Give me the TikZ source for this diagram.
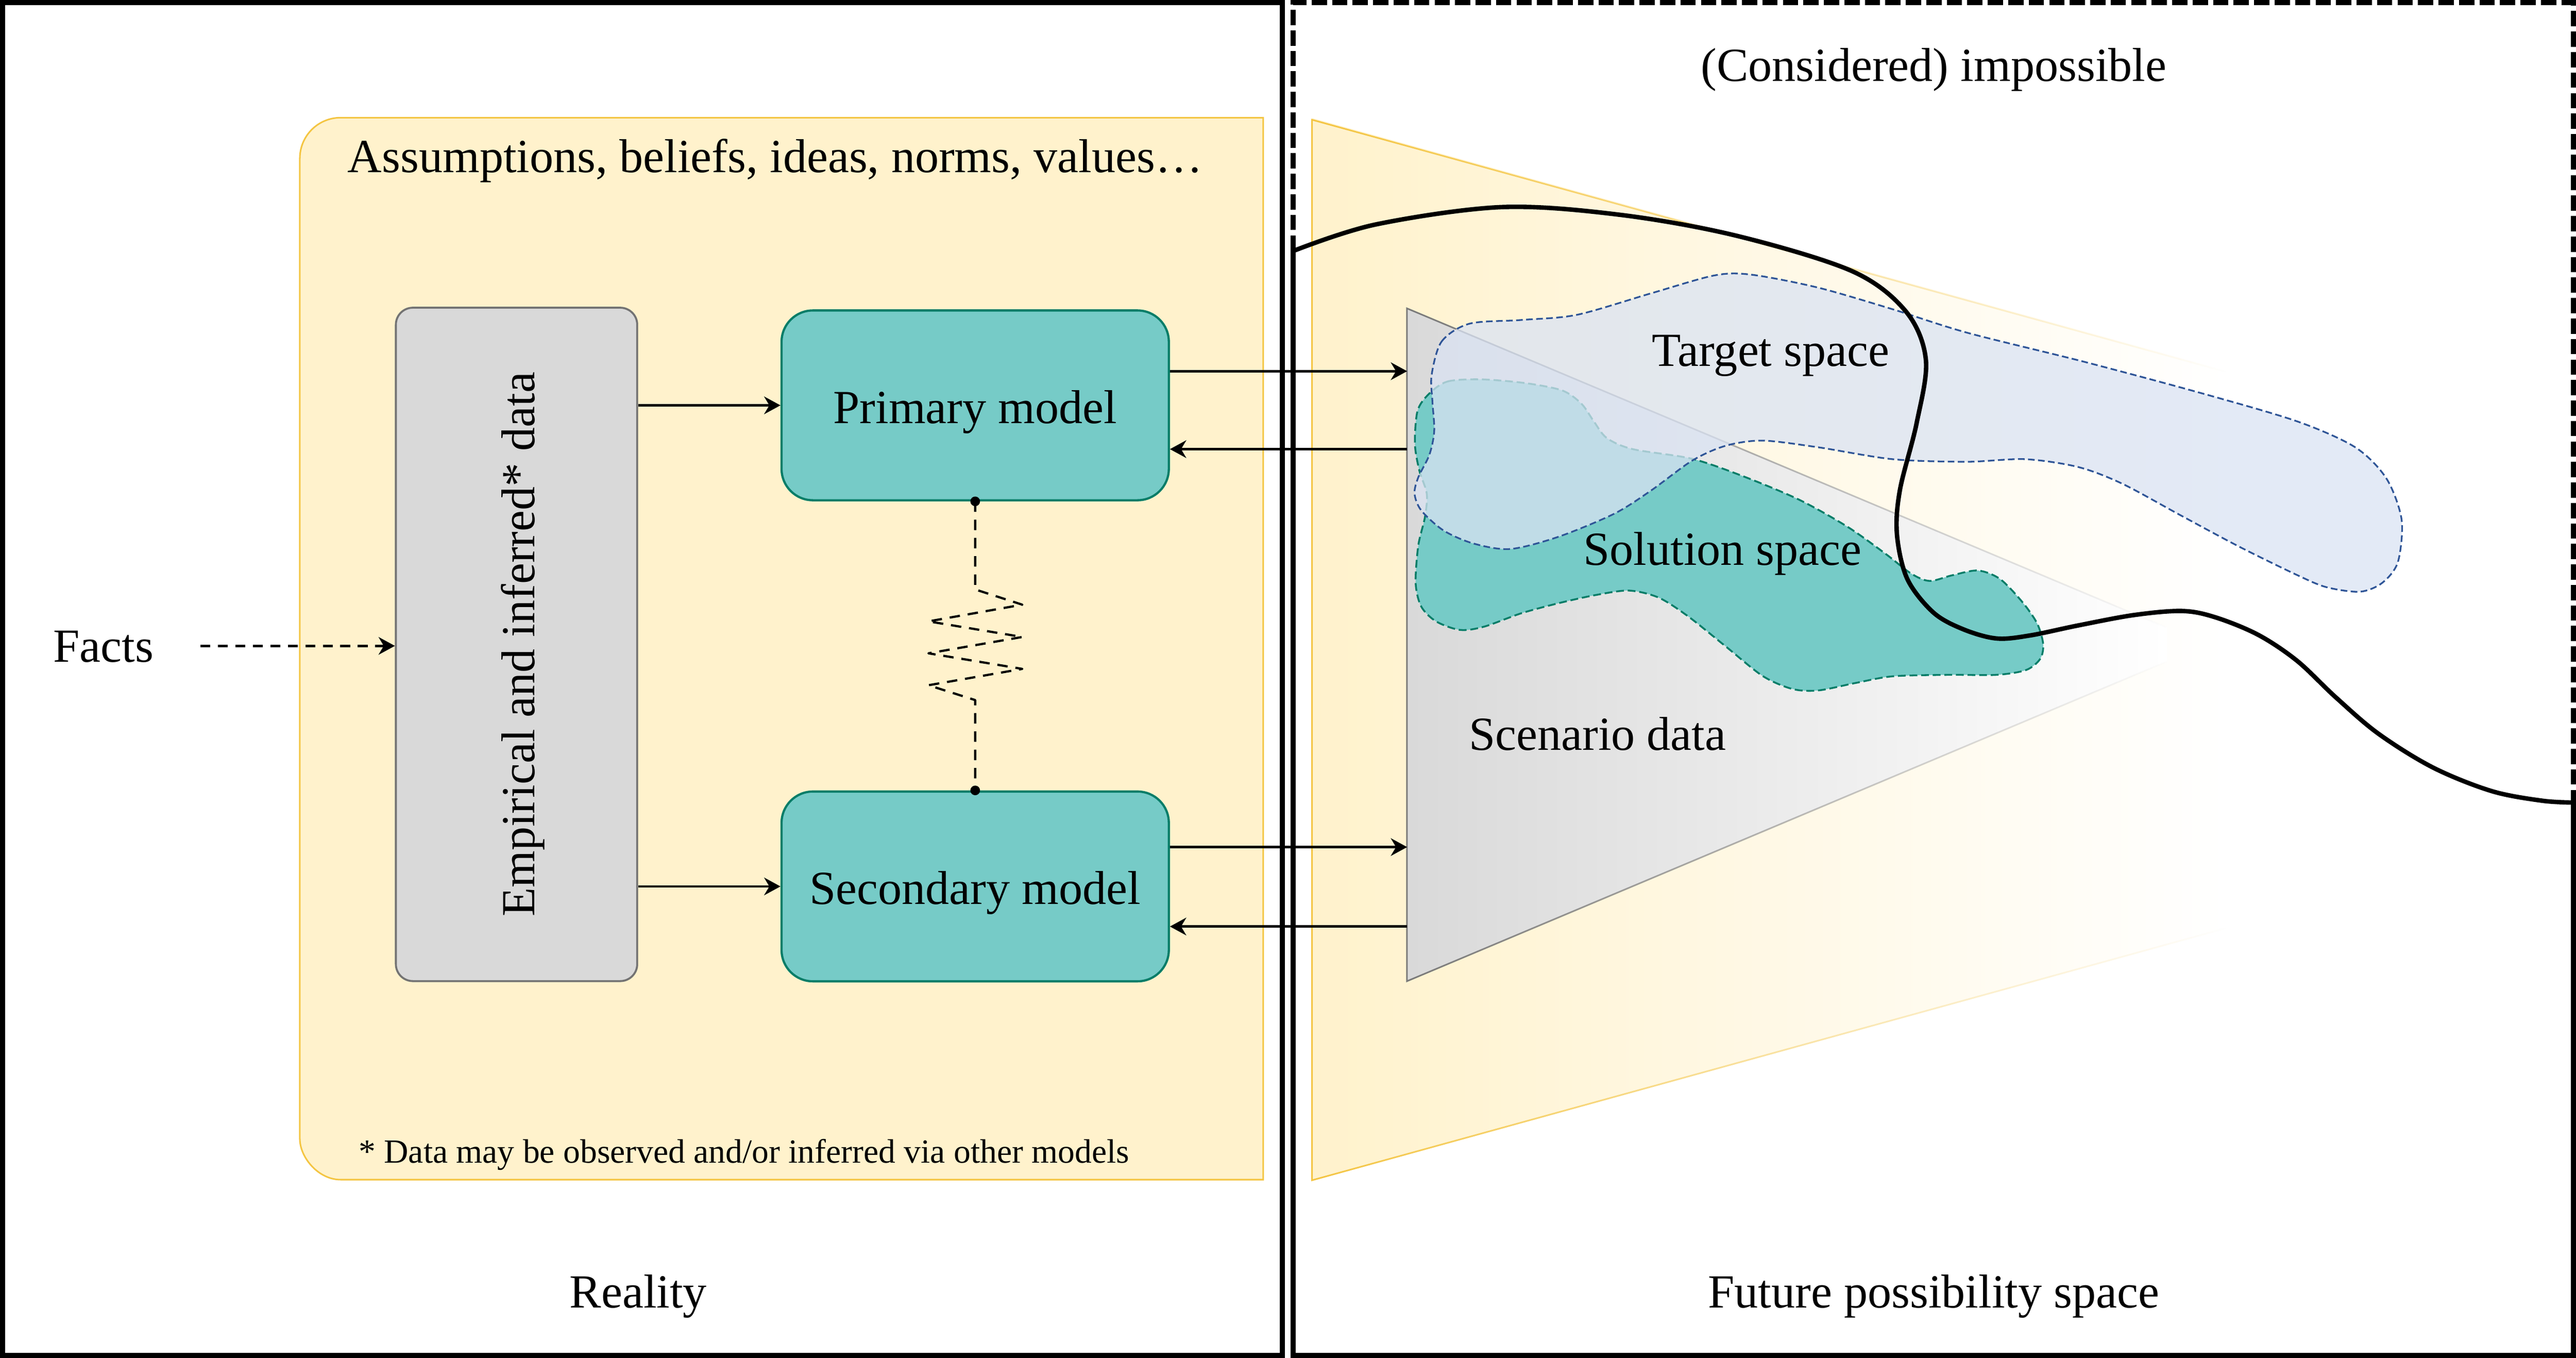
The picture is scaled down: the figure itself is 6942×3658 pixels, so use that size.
\documentclass[tikz,border=0pt]{standalone}
\usepackage{fontspec}
\setmainfont{Liberation Serif}
\usetikzlibrary{arrows.meta,fadings}
\definecolor{yfill}{HTML}{FFF2CC}
\definecolor{ystroke}{HTML}{F4C542}
\definecolor{tfill}{HTML}{76CBC7}
\definecolor{tstroke}{HTML}{067D68}
\definecolor{gfill}{HTML}{D9D9D9}
\definecolor{gstroke}{HTML}{737373}
\definecolor{trigstroke}{HTML}{7A7A7A}
\definecolor{bfill}{HTML}{DAE3F3}
\definecolor{bstroke}{HTML}{2F5597}
\tikzfading[name=fadeR, left color=transparent!0, right color=transparent!100]
\begin{document}
\begin{tikzpicture}[x=0.01cm,y=-0.01cm,
 lbl/.style={font=\fontsize{36.4}{44}\selectfont, inner sep=0pt},
 note/.style={font=\fontsize{25.9}{31}\selectfont, inner sep=0pt},
 frame/.style={draw=black, line width=3.98pt, line join=miter, line cap=butt},
 framedash/.style={frame, dash pattern=on 11.7pt off 4pt},
 modelbox/.style={lbl, draw=tstroke, fill=tfill, line width=1.7pt, rounded corners=24pt, minimum width=10.43cm, minimum height=5.11cm, text height=27.3pt, text depth=0pt},
 databox/.style={lbl, draw=gstroke, fill=gfill, line width=1.5pt, rounded corners=13pt, minimum width=18.13cm, minimum height=6.5cm, text height=27.3pt, text depth=0pt},
 arr/.style={line width=1.8pt, -{Stealth[length=12.5pt,width=13.5pt,inset=4pt]}},
 dasharr/.style={arr, dash pattern=on 7.7pt off 5.7pt},
 zig/.style={line width=1.7pt, dash pattern=on 8pt off 6pt, line join=round},
 solution/.style={fill=tfill, draw=tstroke, line width=1.4pt, dash pattern=on 6pt off 2.9pt},
 target/.style={fill=bfill, fill opacity=0.75, draw=bstroke, line width=1.3pt, dash pattern=on 5.1pt off 2.6pt},
 border/.style={line width=3.4pt, line cap=round, line join=round}
]
\useasboundingbox (0,0) rectangle (6942,3658);
\fill[white] (0,0) rectangle (6942,3658);

% ---------- left: assumptions box ----------
\path[fill=yfill, draw=ystroke, line width=1.2pt] (3404,317) -- (918,317) .. controls (857,317) and (808,366) .. (808,427) -- (808,3068) .. controls (808,3117) and (857,3178) .. (918,3178) -- (3404,3178) -- cycle;
\node[lbl, anchor=base] (assump) at (2089,464) {Assumptions, beliefs, ideas, norms, values…};
\node[note, anchor=base] (footnote) at (2005,3133) {* Data may be observed and/or inferred via other models};

\node[databox, rotate=90] (data) at (1392,1736) {Empirical and inferred* data};
\node[modelbox] (primary) at (2628,1092) {Primary model};
\node[modelbox] (secondary) at (2628,2388) {Secondary model};

\node[lbl, anchor=base] (facts) at (279,1783) {Facts};
\coordinate (factsout) at (540,1740);
\draw[dasharr] (factsout) -- (factsout -| data.north);

\draw[arr] (data.south |- primary.west) -- (primary.west);
\draw[arr] (data.south |- secondary.west) -- (secondary.west);

% zigzag link
\draw[zig] (primary.south) -- (2628,1588) -- (2755,1629) -- (2502,1674) -- (2755,1716) -- (2502,1760) -- (2755,1802) -- (2502,1846) -- (2628,1886) -- (secondary.north);
\fill (primary.south) circle[radius=0.13cm];
\fill (secondary.north) circle[radius=0.13cm];

% ---------- right: possibility space ----------
\shade[left color=yfill, right color=white] (3536,318) -- (6000,998) -- (6000,2498) -- (3536,3178) -- cycle;
\draw[draw=ystroke, line width=1.2pt, path fading=fadeR] (6000,998) -- (3536,318) -- (3536,3178) -- (6000,2498);

\shade[left color=gfill, right color=white] (3792,830) -- (5840,1690) -- (5840,1782) -- (3792,2643) -- cycle;
\draw[draw=trigstroke, line width=1.2pt, path fading=fadeR] (5840,1690) -- (3792,830) -- (3792,2643) -- (5840,1782);

\coordinate (a1) at (3792,1000);
\coordinate (a2) at (3792,1210);
\coordinate (a3) at (3792,2282);
\coordinate (a4) at (3792,2496);
\draw[arr] (primary.east |- a1) -- (a1);
\draw[arr] (a2) -- (primary.east |- a2);
\draw[arr] (secondary.east |- a3) -- (a3);
\draw[arr] (a4) -- (secondary.east |- a4);

\path[solution] plot[smooth cycle, tension=0.5] coordinates {
 (3850,1062) (3900,1028) (3990,1022) (4110,1032) (4210,1052) (4262,1088) (4295,1135) (4330,1180) (4400,1210) (4560,1236) (4700,1284) (4850,1347) (4980,1420) (5080,1491) (5150,1545) (5200,1565) (5260,1550) (5330,1537) (5390,1560) (5450,1622) (5490,1680) (5506,1735) (5498,1775) (5460,1805) (5380,1818) (5250,1818) (5100,1822) (5000,1840) (4900,1860) (4830,1856) (4750,1821) (4650,1741) (4550,1661) (4470,1610) (4390,1591) (4300,1603) (4200,1625) (4100,1652) (4000,1688) (3935,1697) (3870,1674) (3830,1634) (3815,1571) (3822,1470) (3840,1393) (3845,1330) (3825,1268) (3813,1196) (3820,1107)};

\path[target] plot[smooth cycle, tension=0.5] coordinates {
 (3858,1010) (3885,920) (3960,872) (4100,862) (4250,848) (4450,790) (4620,742) (4720,740) (4900,775) (5100,833) (5300,896) (5614,974) (5928,1058) (6190,1135) (6347,1205) (6431,1289) (6472,1400) (6462,1514) (6420,1570) (6360,1594) (6270,1582) (6190,1549) (6033,1472) (5876,1388) (5719,1303) (5600,1258) (5457,1237) (5300,1244) (5100,1237) (4900,1205) (4750,1187) (4650,1201) (4560,1241) (4450,1321) (4350,1384) (4200,1446) (4070,1479) (3970,1464) (3890,1429) (3830,1375) (3812,1330) (3822,1286) (3852,1225) (3865,1161) (3860,1080)};

\draw[border] plot[smooth, tension=0.55] coordinates {
 (3488,675) (3706,605) (4045,558) (4360,578) (4675,634) (4990,730) (5136,839) (5190,970) (5165,1140) (5120,1320) (5112,1440) (5140,1560) (5210,1650) (5290,1695) (5380,1720) (5470,1712) (5600,1685) (5750,1657) (5880,1646) (5970,1663) (6085,1710) (6190,1780) (6295,1879) (6410,1977) (6557,2068) (6714,2131) (6850,2157) (6935,2162)};

\node[lbl, anchor=base] (tgtlbl) at (4772,987) {Target space};
\node[lbl, anchor=base] (sollbl) at (4642,1522) {Solution space};
\node[lbl, anchor=base] (scenlbl) at (4305,2021) {Scenario data};

% ---------- frames ----------
\draw[frame] (7,7) rectangle (3456,3651);
\draw[frame] (3485,675) -- (3485,3651) -- (6935,3651) -- (6935,2162);
\draw[framedash] (3485,675) -- (3485,7) -- (6935,7) -- (6935,2162);

\node[lbl, anchor=base] (reality) at (1720,3523) {Reality};
\node[lbl, anchor=base] (future) at (5211,3523) {Future possibility space};
\node[lbl, anchor=base] (impossible) at (5211,218) {(Considered) impossible};
\end{tikzpicture}
\end{document}
